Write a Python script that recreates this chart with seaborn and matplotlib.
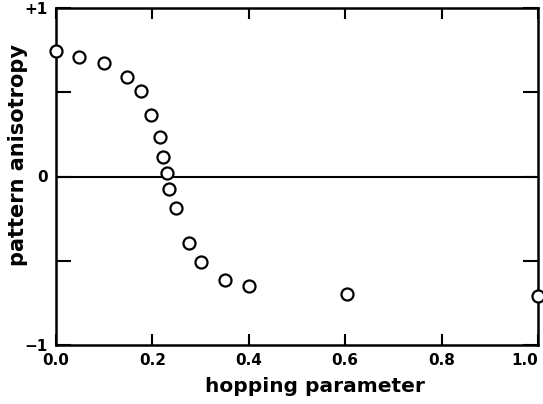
import matplotlib
matplotlib.use("Agg")
import matplotlib.pyplot as plt
import seaborn as sns
import pandas as pd

hopping = [0.0, 0.048, 0.100, 0.148, 0.176, 0.198, 0.215, 0.223, 0.231, 0.234,
           0.249, 0.275, 0.300, 0.351, 0.401, 0.604, 1.0]
anisotropy = [0.745, 0.707, 0.674, 0.59, 0.51, 0.367, 0.236, 0.114, 0.019, -0.074,
              -0.187, -0.395, -0.507, -0.612, -0.652, -0.699, -0.709]
x_ticks = [0.0, 0.2, 0.4, 0.6, 0.8, 1.0]
x_tick_labels = ["0.0", "0.2", "0.4", "0.6", "0.8", "1.0"]
y_ticks = [-1, -0.5, 0, 0.5, 1]
y_tick_labels = ["\u22121", "", "0", "", "+1"]

df = pd.DataFrame({"hopping parameter": hopping, "pattern anisotropy": anisotropy})

sns.set_style("white")
plt.rcParams["font.family"] = ["DejaVu Sans"]
plt.rcParams["font.weight"] = "bold"
plt.rcParams["text.color"] = "black"
plt.rcParams["axes.labelcolor"] = "black"
plt.rcParams["xtick.color"] = "black"
plt.rcParams["ytick.color"] = "black"

fig = plt.figure(figsize=(5.43, 4.04), dpi=100)
ax = fig.add_axes([56 / 543, 1 - 345 / 404, (538 - 56) / 543, (345 - 8) / 404])

ax.axhline(0, color="black", lw=1.5, zorder=1)
sns.scatterplot(data=df, x="hopping parameter", y="pattern anisotropy", ax=ax,
                marker="o", s=75, facecolor="white", edgecolor="black",
                linewidth=1.6, zorder=3, clip_on=False, legend=False)

ax.set_xlim(0, 1.0)
ax.set_ylim(-1, 1)
ax.set_xticks(x_ticks)
ax.set_xticklabels(x_tick_labels, fontsize=11, fontweight="bold")
ax.get_xticklabels()[-1].set_horizontalalignment("right")
ax.set_yticks(y_ticks)
ax.set_yticklabels(y_tick_labels, fontsize=11, fontweight="bold")
ax.tick_params(axis="x", direction="in", length=8, width=1.5, top=True, bottom=True, pad=6)
ax.tick_params(axis="y", direction="in", length=11, width=1.5, left=True, right=True, pad=6)
for s in ax.spines.values():
    s.set_linewidth(1.8)
    s.set_color("black")
ax.set_xlabel("hopping parameter", fontsize=14.5, fontweight="bold")
ax.set_ylabel("pattern anisotropy", fontsize=15, fontweight="bold")
ax.xaxis.set_label_coords(0.537, -0.095)
ax.yaxis.set_label_coords(-0.058, 0.564)
ax.xaxis.label.set_verticalalignment("top")

fig.savefig("out.png", dpi=100)
